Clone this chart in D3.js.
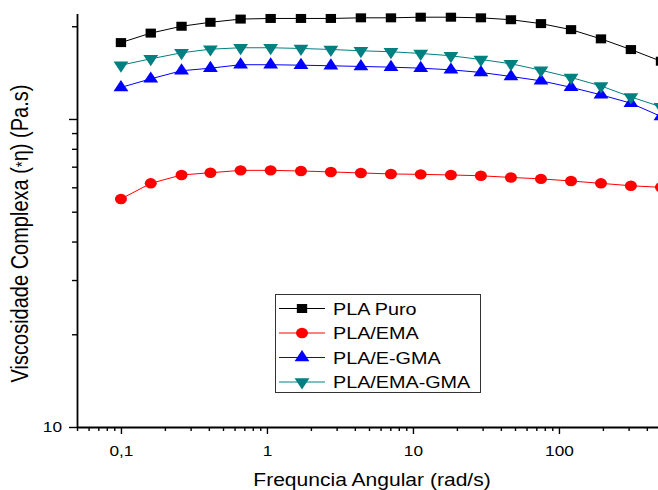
<!DOCTYPE html>
<html>
<head>
<meta charset="utf-8">
<script src="https://cdn.jsdelivr.net/npm/d3@7"></script>
<style>
  body { margin: 0; background: #fff; }
  text { font-family: "Liberation Sans", Arial, sans-serif; fill: #000; }
</style>
</head>
<body>
<div class="container"></div>
<script>
/* Data */
const freq = [0.1, 0.16, 0.26, 0.41, 0.66, 1.06, 1.71, 2.74, 4.4, 7.07, 11.3, 18.2, 29.2, 46.9, 75.3, 121, 194, 311, 500];
const plaPuro = [177, 190, 200, 206, 211, 212, 212, 212, 213, 213, 214, 214, 213, 210, 204, 195, 182, 168, 154];
const plaEma = [55.0, 61.8, 65.8, 66.9, 68.1, 68.1, 67.8, 67.3, 66.8, 66.3, 66.1, 65.8, 65.4, 64.6, 63.9, 62.9, 61.8, 60.7, 60.0];
const plaEGma = [126.6, 135.0, 143.4, 146.2, 150.0, 150.0, 149.5, 148.8, 148.1, 147.3, 146.2, 144.4, 141.6, 137.4, 133.0, 126.7, 119.8, 112.5, 101.9];
const plaEmaGma = [149.5, 156.8, 164.0, 168.5, 170.3, 170.3, 169.4, 168.1, 166.5, 165.3, 163.2, 160.4, 156.0, 151.1, 144.0, 136.4, 128.0, 117.9, 109.5];
const seriesNames = ['PLA Puro', 'PLA/EMA', 'PLA/E-GMA', 'PLA/EMA-GMA'];

// Ticks
const xMajor = [0.1, 1, 10, 100];
const xMajorLabels = ['0,1', '1', '10', '100'];
const xMinor = [0.05, 0.06, 0.07, 0.08, 0.09, 0.2, 0.3, 0.4, 0.5, 0.6, 0.7, 0.8, 0.9,
    2, 3, 4, 5, 6, 7, 8, 9, 20, 30, 40, 50, 60, 70, 80, 90, 200, 300, 400, 500];
const yMajor = [10, 100];
const yMajorLabels = ['10', ''];
const yMinor = [20, 30, 40, 50, 60, 70, 80, 90, 200];

const xTitle = 'Frequncia Angular (rad/s)';

/* Layout & style */
const width = 658;
const height = 490;
const left = 77;
const bottom = 427;
// the original picture is a bit wider than tall, text looks stretched
const stretchX = 1.15;

const colors = ['#000000', '#ff0000', '#0000ff', '#008080'];
const symbols = [d3.symbolSquare, d3.symbolCircle, d3.symbolTriangle, d3.symbolTriangle];
const symbolSizes = [81, 86, 72, 72];
const rotations = [0, 0, 0, 180];

function stretch(sel) {
    sel.each(function () {
        const t = d3.select(this);
        const x = +t.attr('x') || 0;
        const y = +t.attr('y') || 0;
        t.attr('x', 0).attr('y', 0)
            .attr('transform', `translate(${x},${y}) scale(${stretchX},1)`);
    });
}

function draw() {
    const series = [plaPuro, plaEma, plaEGma, plaEmaGma].map((vals, i) => ({
        name: seriesNames[i],
        values: vals.map((v, j) => ({ f: freq[j], v }))
    }));

    const x = d3.scaleLog().domain([0.05, 500]).range([left, 661]);
    const y = d3.scaleLog().domain([10, 220]).range([bottom, 13.5]);

    const svg = d3.select('.container')
        .append('svg')
        .attr('width', width)
        .attr('height', height)
        .style('background', '#fff');

    // x axis
    const xAxis = svg.append('g')
        .attr('transform', `translate(0,${bottom})`)
        .call(d3.axisBottom(x).tickValues(xMajor).tickFormat((d, i) => xMajorLabels[i])
            .tickSizeInner(7).tickSizeOuter(0).tickPadding(11));
    xAxis.append('g')
        .call(d3.axisBottom(x).tickValues(xMinor).tickFormat('').tickSizeInner(4).tickSizeOuter(0))
        .select('.domain').remove();

    // y axis
    const yAxis = svg.append('g')
        .attr('transform', `translate(${left},0)`)
        .call(d3.axisLeft(y).tickValues(yMajor).tickFormat((d, i) => yMajorLabels[i])
            .tickSizeInner(8).tickSizeOuter(0).tickPadding(7));
    yAxis.append('g')
        .call(d3.axisLeft(y).tickValues(yMinor).tickFormat('').tickSizeInner(5).tickSizeOuter(0))
        .select('.domain').remove();

    svg.selectAll('.domain').attr('stroke', '#000').attr('stroke-width', 1.8);
    svg.selectAll('.tick line').attr('stroke', '#000').attr('stroke-width', 1.4);
    svg.selectAll('.tick text')
        .style('font-family', '"Liberation Sans", Arial, sans-serif')
        .style('font-size', '15px')
        .attr('fill', '#000')
        .call(stretch);

    // axis titles
    svg.append('text')
        .attr('x', 372)
        .attr('y', 486)
        .attr('text-anchor', 'middle')
        .style('font-size', '18.3px')
        .text(xTitle)
        .call(stretch);

    const yTitle = svg.append('text')
        .attr('transform', `translate(28,233.5) scale(${stretchX},1) rotate(-90)`)
        .attr('text-anchor', 'middle')
        .style('font-size', '20px');
    yTitle.append('tspan').text('Viscosidade Complexa (');
    yTitle.append('tspan').text('*').style('font-size', '15px');
    yTitle.append('tspan').text('η) (Pa.s)');

    // series
    const line = d3.line().x(d => x(d.f)).y(d => y(d.v));
    const plot = svg.append('g');

    series.forEach((s, i) => {
        plot.append('path')
            .datum(s.values)
            .attr('d', line)
            .attr('fill', 'none')
            .attr('stroke', colors[i])
            .attr('stroke-width', 1);
    });
    series.forEach((s, i) => {
        plot.selectAll(null)
            .data(s.values)
            .enter()
            .append('path')
            .attr('d', d3.symbol().type(symbols[i]).size(symbolSizes[i]))
            .attr('transform', d => `translate(${x(d.f)},${y(d.v)}) rotate(${rotations[i]}) scale(${stretchX},1)`)
            .attr('fill', colors[i]);
    });

    // legend
    const legend = svg.append('g').attr('transform', 'translate(275,294)');
    legend.append('rect')
        .attr('x', 0.5).attr('y', 0.5)
        .attr('width', 205).attr('height', 98)
        .attr('fill', '#fff')
        .attr('stroke', '#333')
        .attr('stroke-width', 1);

    const items = legend.selectAll('.item')
        .data(seriesNames)
        .enter()
        .append('g')
        .attr('class', 'item')
        .attr('transform', (d, i) => `translate(0,${14.5 + i * 24.5})`);
    items.append('line')
        .attr('x1', 4).attr('x2', 50)
        .attr('stroke', (d, i) => colors[i])
        .attr('stroke-width', 1);
    items.append('path')
        .attr('d', (d, i) => d3.symbol().type(symbols[i]).size(symbolSizes[i])())
        .attr('transform', (d, i) => `translate(27,0) rotate(${rotations[i]}) scale(${stretchX},1)`)
        .attr('fill', (d, i) => colors[i]);
    items.append('text')
        .attr('x', 58)
        .attr('y', 6.3)
        .style('font-size', '17.2px')
        .text(d => d)
        .call(stretch);
}

draw();
</script>
</body>
</html>
